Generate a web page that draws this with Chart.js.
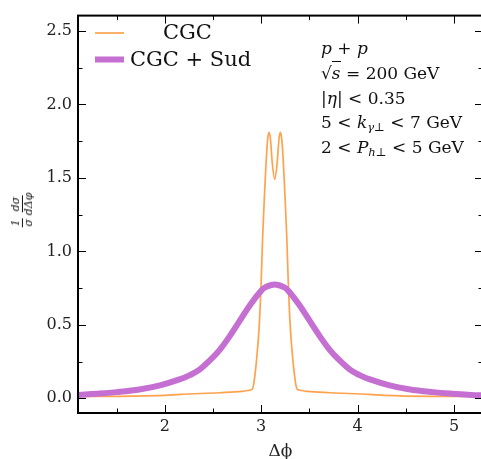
<!DOCTYPE html>
<html>
<head>
<meta charset="utf-8">
<script src="https://cdn.jsdelivr.net/npm/chart.js@4"></script>
<style>
  body { margin: 0; background: #fff; }
  #wrap { position: relative; width: 481px; height: 459px; overflow: hidden; }
  #chart { position: absolute; left: 0; top: 0; }
  .note { position: absolute; left: 321px; top: 36px; font: 17px "DejaVu Serif", serif; line-height: 24.8px; color: #111; white-space: nowrap; }
  .note i { font-style: italic; }
  .note sub { font-size: 0.68em; vertical-align: -0.3em; line-height: 0; }
  .ov { border-top: 1px solid #111; padding-top: 1px; }
  #ylab { position: absolute; left: 22px; top: 210px; transform: translate(-50%, -50%) rotate(-90deg);
          font: italic 11px "DejaVu Serif", serif; color: #111; white-space: nowrap; display: flex; align-items: center; gap: 3px; }
  .frac { display: inline-flex; flex-direction: column; align-items: center; line-height: 1.05; }
  .frac span:first-child { border-bottom: 1px solid #111; padding: 0 1px; }
</style>
</head>
<body>
<div id="wrap">
  <canvas id="chart" width="490" height="466"></canvas>
  <div id="ylab"><span class="frac"><span>1</span><span>σ</span></span><span class="frac"><span>dσ</span><span>dΔφ</span></span></div>
  <div class="note">
    <i>p</i> + <i>p</i><br>
    √<span class="ov"><i>s</i></span> = 200 GeV<br>
    |<i>η</i>| &lt; 0.35<br>
    5 &lt; <i>k</i><sub><i>γ</i>⊥</sub> &lt; 7 GeV<br>
    2 &lt; <i>P</i><sub><i>h</i>⊥</sub> &lt; 5 GeV
  </div>
</div>
<script>
// data
let seriesNames = ['CGC', 'CGC + Sud'];

let cgcX = [1.10, 1.50, 2.00, 2.16, 2.57, 2.80, 2.88, 2.905, 2.92, 2.95, 2.98, 3.00, 3.015, 3.035, 3.05, 3.065, 3.08, 3.095, 3.115, 3.14,
            3.165, 3.185, 3.20, 3.215, 3.23, 3.245, 3.265, 3.28, 3.30, 3.33, 3.36, 3.375, 3.40, 3.48, 3.71, 4.12, 4.28, 4.78, 5.30];
let cgcY = [0.012, 0.013, 0.02, 0.027, 0.038, 0.047, 0.055, 0.06, 0.09, 0.25, 0.5, 0.8, 1.1, 1.4, 1.6, 1.75, 1.81, 1.77, 1.6, 1.49,
            1.6, 1.77, 1.81, 1.75, 1.6, 1.4, 1.1, 0.8, 0.5, 0.25, 0.09, 0.06, 0.055, 0.047, 0.038, 0.027, 0.02, 0.013, 0.012];

let sudX = [1.10, 1.30, 1.50, 1.75, 1.95, 2.16, 2.26, 2.36, 2.47, 2.57, 2.67, 2.78, 2.89, 2.99, 3.04, 3.14,
            3.24, 3.29, 3.39, 3.50, 3.61, 3.71, 3.81, 3.92, 4.02, 4.12, 4.33, 4.53, 4.78, 4.98, 5.18, 5.30];
let sudY = [0.023, 0.031, 0.042, 0.062, 0.088, 0.13, 0.158, 0.195, 0.26, 0.33, 0.42, 0.53, 0.64, 0.725, 0.755, 0.775,
            0.755, 0.725, 0.64, 0.53, 0.42, 0.33, 0.26, 0.195, 0.158, 0.13, 0.088, 0.062, 0.042, 0.031, 0.023, 0.02];

let xMajor = [2, 3, 4, 5];
let xMinor = [1.5, 2.5, 3.5, 4.5];
let yMajor = [0, 0.5, 1.0, 1.5, 2.0, 2.5];
let yMinor = [0.25, 0.75, 1.25, 1.75, 2.25];

const toPts = (xs, ys) => xs.map((x, i) => ({ x: x, y: ys[i] }));

// box with inward ticks on all four sides + legend inside the plot
const framePlugin = {
  id: 'frame',
  afterDatasetsDraw(chart) {
    const c = chart.ctx, a = chart.chartArea;
    const xs = chart.scales.x, ys = chart.scales.y;
    c.save();
    c.strokeStyle = '#000';
    c.lineWidth = 1;
    const tick = (v, len, horiz) => {
      if (horiz) {
        const p = Math.round(xs.getPixelForValue(v)) + 0.5;
        c.beginPath();
        c.moveTo(p, a.bottom); c.lineTo(p, a.bottom - len);
        c.moveTo(p, a.top); c.lineTo(p, a.top + len);
        c.stroke();
      } else {
        const p = Math.round(ys.getPixelForValue(v)) + 0.5;
        c.beginPath();
        c.moveTo(a.left, p); c.lineTo(a.left + len, p);
        c.moveTo(a.right, p); c.lineTo(a.right - len, p);
        c.stroke();
      }
    };
    xMajor.forEach(v => tick(v, 8, true));
    xMinor.forEach(v => tick(v, 4.5, true));
    yMajor.forEach(v => tick(v, 8, false));
    yMinor.forEach(v => tick(v, 4.5, false));
    c.lineWidth = 2;
    c.strokeRect(a.left, a.top, a.right - a.left, a.bottom - a.top);

    // legend
    const rows = [33, 59.5], textX = [163, 130];
    chart.data.datasets.forEach((ds, i) => {
      c.strokeStyle = ds.borderColor;
      c.lineWidth = ds.borderWidth;
      c.beginPath();
      c.moveTo(95, rows[i]); c.lineTo(124, rows[i]);
      c.stroke();
      c.fillStyle = '#111';
      c.font = '21px "DejaVu Serif", serif';
      c.textBaseline = 'middle';
      c.fillText(ds.label, textX[i], rows[i] + 1);
    });
    c.restore();
  }
};

new Chart(document.getElementById('chart'), {
  type: 'line',
  data: {
    datasets: [
      { label: seriesNames[0], data: toPts(cgcX, cgcY), borderColor: '#ffa24d', borderWidth: 1.7, order: 1,
        cubicInterpolationMode: 'monotone' },
      { label: seriesNames[1], data: toPts(sudX, sudY), borderColor: '#c46fd1', borderWidth: 6, order: 0,
        tension: 0.4 }
    ]
  },
  options: {
    responsive: false,
    animation: false,
    layout: { padding: { left: 0, top: 7, right: 7, bottom: 0 } },
    elements: {
      point: { radius: 0 },
      line: { borderCapStyle: 'round', borderJoinStyle: 'round' }
    },
    plugins: { legend: { display: false }, tooltip: { enabled: false } },
    scales: {
      x: {
        type: 'linear', min: 1.1, max: 5.3,
        grid: { display: false, drawTicks: false },
        border: { display: false },
        afterBuildTicks: s => { s.ticks = xMajor.map(v => ({ value: v })); },
        afterFit: s => { s.height = 53; },
        ticks: { padding: 4, color: '#222', font: { family: 'DejaVu Serif', size: 16 }, callback: v => String(v) },
        title: { display: true, text: 'Δϕ', color: '#222', font: { family: 'DejaVu Serif', size: 17 }, padding: { top: 0, bottom: 4 } }
      },
      y: {
        type: 'linear', min: -0.1, max: 2.605,
        grid: { display: false, drawTicks: false },
        border: { display: false },
        afterBuildTicks: s => { s.ticks = yMajor.map(v => ({ value: v })); },
        afterFit: s => { s.width = 78; },
        ticks: { padding: 6, color: '#222', font: { family: 'DejaVu Serif', size: 16 }, callback: v => v.toFixed(1) }
      }
    }
  },
  plugins: [framePlugin]
});
</script>
</body>
</html>
